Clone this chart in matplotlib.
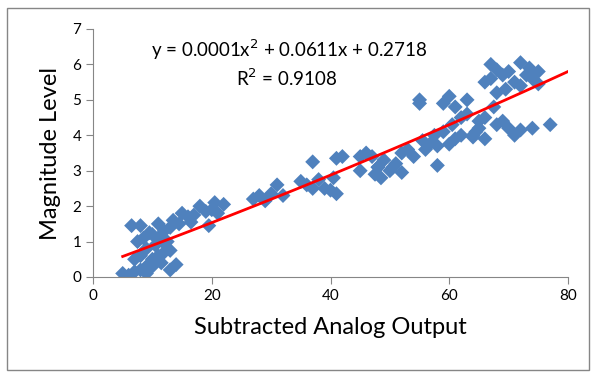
import numpy as np
import matplotlib
matplotlib.use('Agg')
import matplotlib.pyplot as plt
from matplotlib.patches import Rectangle

# Data (Subtracted Analog Output vs Magnitude Level)
analog_out = [5, 6, 7, 8, 9, 10, 6.5, 8, 7.5, 8.5, 9, 10, 11, 11, 12, 12.5, 13, 13, 14,
              10.5, 11.5, 12, 9.5, 8, 7, 13.5, 14.5, 15, 16, 17, 16.5, 18, 19, 19.5, 20,
              21, 22, 20.5, 12, 10, 9, 11, 13,
              27, 28, 29, 30, 31, 32,
              35, 36, 37, 37, 38, 39, 40, 41, 41, 42, 40.5,
              45, 46, 47, 47.5, 48, 48.5, 49, 50, 51, 52, 52, 53, 54, 45, 48, 50.5,
              55, 55, 55.5, 56, 57, 58, 58, 59, 59, 60, 60, 61, 61, 62, 62, 63, 63,
              64, 64, 65, 65, 66, 66, 66, 67, 67, 67.5, 68, 68, 68, 69, 69, 69.5, 70,
              70, 71, 71, 72, 72, 72, 73, 73.5, 74, 74, 75, 75, 77, 57.5, 60.5, 64.5]
magnitude = [0.1, 0.05, 0.15, 0.2, 0.1, 0.3, 1.45, 1.45, 1.0, 1.1, 0.8, 0.5, 0.6, 1.5, 1.3, 1.0, 1.4, 0.2, 0.35,
             0.9, 0.4, 0.7, 1.25, 0.6, 0.5, 1.6, 1.5, 1.8, 1.7, 1.75, 1.55, 2.0, 1.85, 1.45, 1.9,
             1.8, 2.05, 2.1, 0.95, 1.2, 0.3, 1.1, 0.75,
             2.2, 2.3, 2.15, 2.35, 2.6, 2.3,
             2.7, 2.6, 3.25, 2.5, 2.75, 2.5, 2.45, 2.35, 3.35, 3.4, 2.8,
             3.0, 3.5, 3.4, 2.9, 3.1, 2.8, 3.3, 3.0, 3.2, 3.5, 2.95, 3.6, 3.4, 3.4, 3.1, 3.1,
             4.9, 5.0, 3.85, 3.6, 3.8, 3.7, 3.15, 4.1, 4.9, 3.75, 5.1, 3.9, 4.8, 4.0, 4.5, 5.0, 4.6,
             4.0, 3.95, 4.2, 4.4, 4.5, 5.5, 3.9, 5.6, 6.0, 4.8, 5.2, 5.85, 4.3, 5.7, 4.4, 5.3, 5.8,
             4.2, 5.5, 4.0, 6.05, 5.4, 4.15, 5.7, 5.9, 5.6, 4.2, 5.45, 5.8, 4.3, 4.0, 4.3, 4.1]

# Trendline coefficients (2nd order poly) shown on chart
coeffs = [0.0001, 0.0611, 0.2718]
r_squared = 0.9108
fit_range = [5, 80]

plt.rcParams['font.family'] = ['Lato', 'DejaVu Sans']

fig = plt.figure(figsize=(5.92, 3.72), dpi=100)
ax = fig.add_axes([93/592, 1-277/372, (568-93)/592, (277-29)/372])

ax.scatter(analog_out, magnitude, marker='D', s=58, color='#4F81BD', edgecolors='none', zorder=2)

xf = np.linspace(fit_range[0], fit_range[1], 100)
ax.plot(xf, np.polyval(coeffs, xf), color='#FF0000', lw=2, zorder=3)

ax.set_xlim(0, 80)
ax.set_ylim(0, 7)
ax.set_xticks([0, 20, 40, 60, 80])
ax.set_yticks(range(0, 8))
for s in ['top', 'right']:
    ax.spines[s].set_visible(False)
for s in ['left', 'bottom']:
    ax.spines[s].set_color('#868686')
ax.tick_params(colors='#868686', length=5, labelsize=11, labelcolor='black')
ax.set_xlabel('Subtracted Analog Output', fontsize=17, labelpad=10)
ax.set_ylabel('Magnitude Level', fontsize=17, labelpad=8)

eq = 'y = %.4fx$^2$ + %.4fx + %.4f' % tuple(coeffs)
fig.text(289/592, 1-50/372, eq, fontsize=13.5, ha='center', va='center')
fig.text(287/592, 1-78/372, 'R$^2$ = %.4f' % r_squared, fontsize=13.5, ha='center', va='center')

fig.patches.append(Rectangle((7/592, 1-370/372), 582/592, 362/372, transform=fig.transFigure,
                             fill=False, edgecolor='#868686', lw=1))

fig.savefig('out.png', dpi=100)
